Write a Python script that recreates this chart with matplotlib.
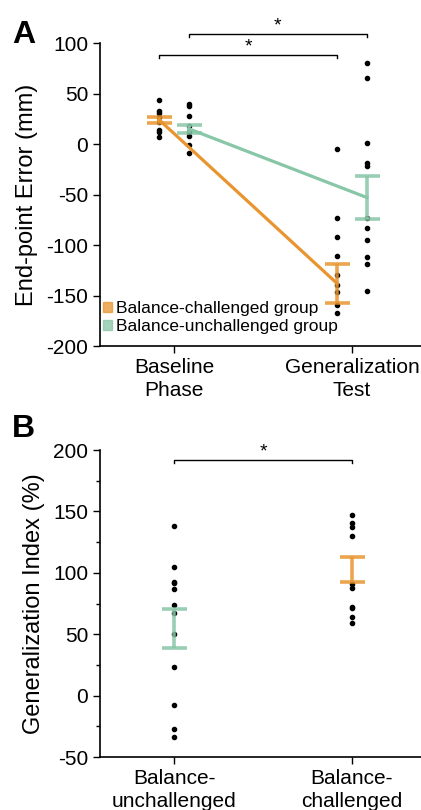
import matplotlib
matplotlib.use('Agg')
import matplotlib.pyplot as plt
from matplotlib.patches import Patch
from matplotlib.ticker import MultipleLocator

plt.rcParams['font.family'] = ['Liberation Sans', 'DejaVu Sans']
plt.rcParams['axes.unicode_minus'] = False

ORANGE = '#E8952F'
GREEN = '#87C6A6'

# Panel A - end-point error (mm)
phases = ['Baseline\nPhase', 'Generalization\nTest']
chal_base = [43.6, 33, 31, 27, 22, 13.9, 12.2, 6.6]
chal_gen = [-5.3, -73, -92, -110.9, -129.7, -140, -146.2, -159.4, -167.6]
unchal_base = [39.3, 37.6, 27.7, 17.8, 12, 7.9, -1, -8.9]
unchal_gen = [80.2, 65, 1.3, -19.1, -21.5, -73.3, -82.9, -94.8, -111.9, -118.5, -145.2]
chal_mean = [24, -138]
chal_sem = [3.2, 19]
unchal_mean = [15, -53]
unchal_sem = [4.3, 21.3]

# Panel B - generalization index (%)
groups_b = ['Balance-\nunchallenged', 'Balance-\nchallenged']
gi_unchal = [138.3, 104.4, 92.7, 91.4, 86.7, 73.9, 66.9, 50.0, 23.7, -7.6, -27.4, -33.9]
gi_chal = [147, 140.3, 137.5, 129.9, 91, 87.3, 72.3, 71, 64.2, 58.8]
gi_mean = [54.8, 102.7]
gi_sem = [15.9, 9.8]

off = 0.084

fig = plt.figure(figsize=(4.21, 8.10), dpi=100)


def style_axes(ax):
    for s in ['top', 'right']:
        ax.spines[s].set_visible(False)
    ax.spines['left'].set_linewidth(1.2)
    ax.spines['bottom'].set_linewidth(1.2)
    ax.tick_params(direction='out', length=5, width=1.0, labelsize=15)
    ax.set_xlim(0.584, 2.388)


def errbar(ax, x, m, e, color):
    ax.errorbar([x], [m], yerr=[e], fmt='none', ecolor=color, elinewidth=2.6,
                capsize=9, capthick=2.6, alpha=0.85, zorder=4)


def bracket(ax, x1, x2, y, h):
    ax.plot([x1, x1, x2, x2], [y - h, y, y, y - h], color='black', lw=1.0,
            clip_on=False)
    ax.text((x1 + x2) / 2, y, '*', ha='center', va='bottom', fontsize=14,
            clip_on=False)


# ---- Panel A
axA = fig.add_axes([0.2375, 0.5728, 0.7625, 0.3741])
style_axes(axA)
xs = [1, 2]
axA.plot([1 - off, 2 - off], chal_mean, color=ORANGE, lw=2.3, zorder=3)
axA.plot([1 + off, 2 + off], unchal_mean, color=GREEN, lw=2.3, zorder=3)
for x, vals in zip([1 - off, 2 - off, 1 + off, 2 + off],
                   [chal_base, chal_gen, unchal_base, unchal_gen]):
    axA.plot([x] * len(vals), vals, 'o', color='black', ms=3, zorder=2)
for i in range(2):
    errbar(axA, xs[i] - off, chal_mean[i], chal_sem[i], ORANGE)
    errbar(axA, xs[i] + off, unchal_mean[i], unchal_sem[i], GREEN)
axA.set_ylim(-200, 100)
axA.set_yticks([100, 50, 0, -50, -100, -150, -200])
axA.set_xticks(xs)
axA.set_xticklabels(phases, linespacing=1.3)
axA.set_ylabel('End-point Error (mm)', fontsize=17, labelpad=6)
bracket(axA, 1 + off, 2 + off, 108.9, 3)
bracket(axA, 1 - off, 2 - off, 88, 3)
handles = [Patch(color=ORANGE, alpha=0.75), Patch(color=GREEN, alpha=0.75)]
axA.legend(handles, ['Balance-challenged group', 'Balance-unchallenged group'],
           loc='lower left', bbox_to_anchor=(-0.03, 0.0), frameon=False,
           fontsize=12.5, handlelength=0.55, handleheight=0.55,
           handletextpad=0.2, labelspacing=0.15, borderaxespad=0.3)
fig.text(0.028, 0.957, 'A', fontsize=23, fontweight='bold', va='center')

# ---- Panel B
axB = fig.add_axes([0.2375, 0.0654, 0.7625, 0.379])
style_axes(axB)
axB.plot([1] * len(gi_unchal), gi_unchal, 'o', color='black', ms=3, zorder=2)
axB.plot([2] * len(gi_chal), gi_chal, 'o', color='black', ms=3, zorder=2)
errbar(axB, 1, gi_mean[0], gi_sem[0], GREEN)
errbar(axB, 2, gi_mean[1], gi_sem[1], ORANGE)
axB.set_ylim(-50, 200)
axB.set_yticks([200, 150, 100, 50, 0, -50])
axB.yaxis.set_minor_locator(MultipleLocator(25))
axB.tick_params(axis='y', which='minor', direction='out', length=3, width=1.0)
axB.set_xticks([1, 2])
axB.set_xticklabels(groups_b, linespacing=1.3)
axB.set_ylabel('Generalization Index (%)', fontsize=17, labelpad=6)
bracket(axB, 1, 2, 191.8, 2.2)
fig.text(0.028, 0.47, 'B', fontsize=23, fontweight='bold', va='center')

fig.savefig('out.png', dpi=100)
